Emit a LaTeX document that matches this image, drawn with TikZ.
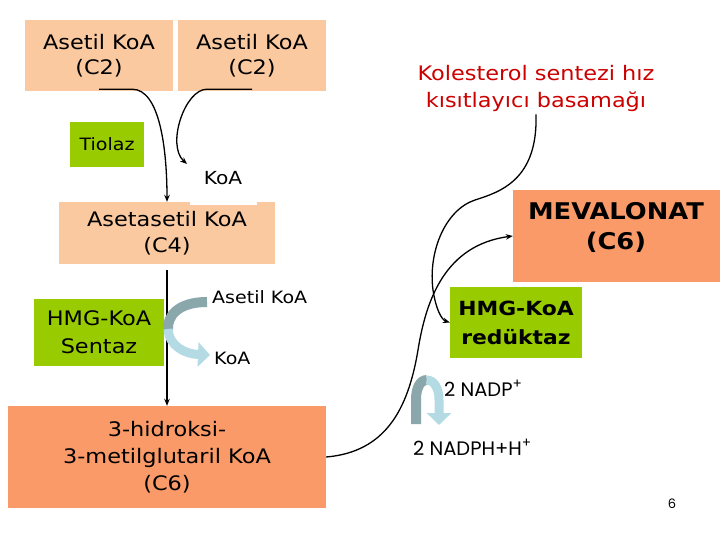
\documentclass[tikz,border=0pt]{standalone}
\usepackage{fontspec}
\setmainfont{DejaVu Sans}[FakeStretch=1.12]
\newfontfamily\geo{Poppins}
\usetikzlibrary{arrows.meta}
\definecolor{peach}{RGB}{250,201,160}
\definecolor{salmon}{RGB}{250,154,104}
\definecolor{lime}{RGB}{153,204,0}
\definecolor{kred}{RGB}{204,0,0}
\definecolor{tealdark}{RGB}{138,168,172}
\definecolor{teallight}{RGB}{180,218,228}
\tikzset{
  pbox/.style={fill=peach, inner sep=0pt, align=center, font=\fontsize{20}{25}\selectfont},
  sbox/.style={fill=salmon, inner sep=0pt, align=center, font=\fontsize{20}{27}\selectfont},
  gbox/.style={fill=lime, inner sep=0pt, align=center, font=\fontsize{20}{28}\selectfont},
  lbl/.style={inner sep=0pt, font=\fontsize{17}{20}\selectfont},
  conn/.style={black, line width=1.3pt, -{Stealth[length=7pt,width=5.5pt]}},
  thick1/.style={line width=10pt, tealdark},
  thick2/.style={line width=9pt, teallight, -{Triangle[length=12pt,width=24pt]}},
}
\begin{document}
\begin{tikzpicture}[x=1pt,y=-1pt]
\useasboundingbox (0,0) rectangle (720,540);
% boxes
\node[pbox, minimum width=148pt, minimum height=71pt] (ac1) at (99,55.5) {Asetil KoA\\(C2)};
\node[pbox, minimum width=148pt, minimum height=71pt] (ac2) at (252,55.5) {Asetil KoA\\(C2)};
\node[gbox, minimum width=74pt, minimum height=45pt, font=\fontsize{17}{20}\selectfont] (tio) at (107,144.5) {Tiolaz};
\node[pbox, minimum width=216pt, minimum height=62pt, font=\fontsize{20}{26}\selectfont] (aa) at (167,233) {Asetasetil KoA\\(C4)};
\node[fill=white, inner sep=0pt, minimum width=67pt, minimum height=54pt, font=\fontsize{18}{20}\selectfont] (koa1) at (223,178) {KoA};
\node[gbox, minimum width=130pt, minimum height=67pt] (hs) at (99,332.5) {HMG-KoA\\Sentaz};
\node[sbox, minimum width=318pt, minimum height=102pt] (hmgc) at (167,457) {3-hidroksi-\\3-metilglutaril KoA\\(C6)};
\node[fill=salmon, inner sep=0pt, minimum width=207pt, minimum height=92pt] (mev) at (616.5,236) {};
\node[inner sep=0pt, align=center, font=\fontsize{23}{30}\selectfont\bfseries] (mevt) at (616,227) {MEVALONAT\\(C6)};
\node[gbox, minimum width=132pt, minimum height=71pt, font=\fontsize{19.5}{29}\selectfont\bfseries] (red) at (516,322.5) {HMG-KoA\\redüktaz};
\node[inner sep=3pt, align=center, text=kred, font=\fontsize{20}{27}\selectfont] (kol) at (536,88) {Kolesterol sentezi hız\\kısıtlayıcı basamağı};
% labels
\node[lbl, anchor=west] (asl) at (212,297) {Asetil KoA};
\node[lbl, anchor=west] (koa2) at (214,358) {KoA};
\node[inner sep=0pt, anchor=west, font=\geo\fontsize{19.5}{22}\selectfont] (nadp) at (444,388) {2 NADP\textsuperscript{+}};
\node[inner sep=0pt, anchor=west, font=\geo\fontsize{19.5}{22}\selectfont] (nadph) at (413,447) {2 NADPH+H\textsuperscript{+}};
\node[inner sep=0pt, font=\geo\fontsize{13}{14}\selectfont] (pg) at (672,504) {6};
% connectors
\coordinate (koaend) at (187,164);
\draw[conn] ([yshift=2pt]ac1.south) -- ++(33,0) .. controls (160,89) and (167,150) .. (aa.north);
\draw[conn] ([yshift=2pt]ac2.south) -- ++(-45,0) .. controls (185,89) and (166,145) .. (koaend);
\draw[conn] ([yshift=-6pt]aa.south) -- (hmgc.north);
\draw[conn] (kol.south) .. controls (538,180) and (500,192) .. (475,200) .. controls (445,210) and (428,252) .. (433,290) .. controls (436,310) and (442,320) .. (red.west);
\draw[conn] (hmgc.east) .. controls (385,452) and (408,410) .. (418,350) .. controls (426,300) and (445,245) .. (mev.west);
% teal curved arrows
\coordinate (t1) at (207,302);
\coordinate (tm) at (168,330);
\coordinate (t2) at (210,355);
\draw[thick1] (t1) .. controls (178,302) and (167,316) .. (tm);
\draw[thick2] ([yshift=1pt]tm) .. controls (169,346) and (185,354) .. (t2);
\coordinate (n1) at (416,424);
\coordinate (ntop) at (427,380);
\coordinate (n2) at (439,425);
\draw[thick1] (n1) -- (416,400) .. controls (416,388) and (420,380) .. (ntop);
\draw[line width=9pt, teallight, -{Triangle[length=12pt,width=24pt]}] ([xshift=-0.5pt]ntop) .. controls (434,380) and (439,388) .. (439,400) -- (n2);
\end{tikzpicture}
\end{document}
